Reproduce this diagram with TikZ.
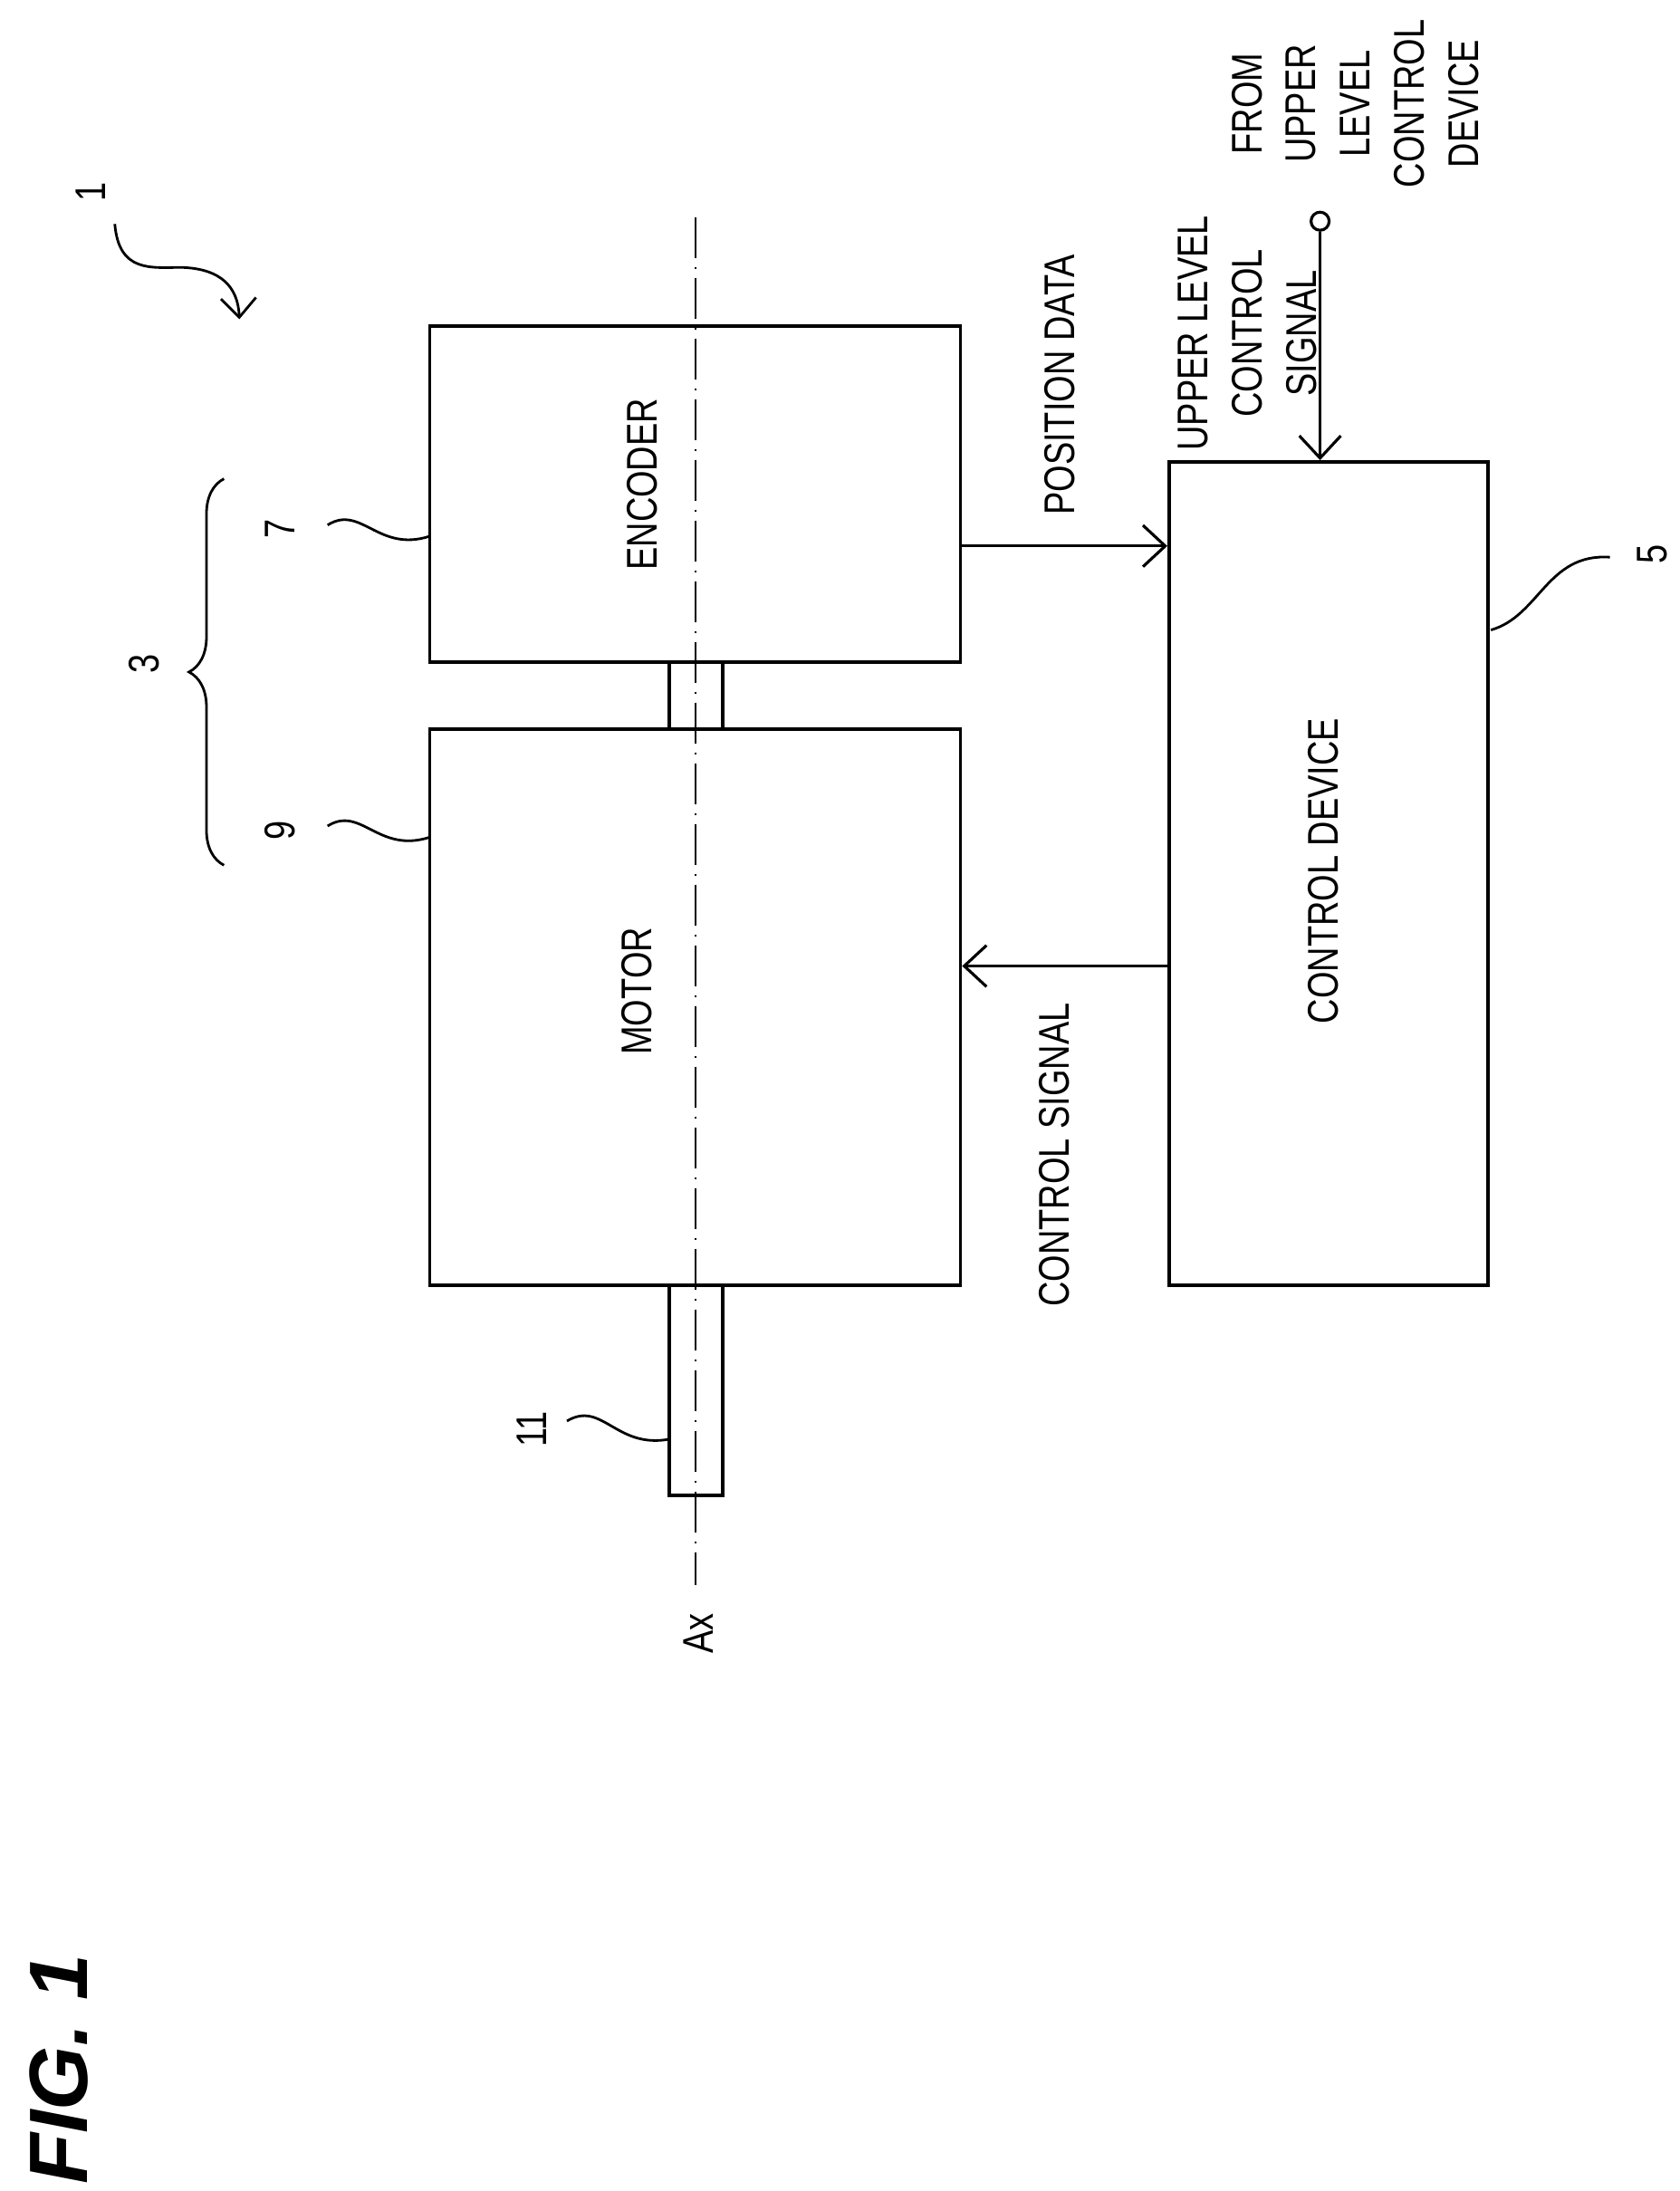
\documentclass[tikz,border=0pt]{standalone}
\usepackage{fontspec}
\setmainfont{Liberation Sans}[FakeStretch=0.8]
\newfontfamily\figfont{Liberation Sans}
\usetikzlibrary{arrows.meta,decorations.pathreplacing}

\begin{document}
\begin{tikzpicture}[x=0.015458cm,y=-0.015458cm,
  box/.style={draw, line width=1.1pt, inner sep=0pt},
  txt/.style={rotate=90, font=\fontsize{13.5}{17}\selectfont, align=center},
  sig/.style={line width=0.9pt, -{Straight Barb[length=7pt,width=13pt]}},
  lead/.style={line width=0.8pt},
  axis/.style={line width=0.7pt, dash pattern=on 0.45cm off 0.1cm on 0.02cm off 0.1cm}]
\useasboundingbox (0,0) rectangle (1200,1565);

% Blocks
\node[box, minimum width=5.86cm, minimum height=3.71cm] (enc) at (496.5,353) {};
\node[box, minimum width=0.59cm, minimum height=0.74cm] (coup) at (497,497) {};
\node[box, minimum width=5.86cm, minimum height=6.14cm] (mot) at (496.5,719.5) {};
\node[box, minimum width=0.59cm, minimum height=2.32cm] (shaft) at (497,993) {};
\node[box, minimum width=3.52cm, minimum height=9.09cm] (ctrl) at (949,624) {};
\node[txt] at (459,346) {ENCODER};
\node[txt] at (455,708) {MOTOR};
\node[txt] at (945,622) {CONTROL DEVICE};

% Rotation axis
\coordinate (axtop) at (497,155);
\coordinate (axbot) at (497,1132);
\draw[axis] (axtop) -- (axbot);
\node[txt] (ax) at (499,1167) {Ax};

% Signals
\coordinate (pd) at (760,390);
\coordinate (cs) at (760,690);
\draw[sig] (enc.east |- pd) -- (ctrl.west |- pd);
\draw[sig] (ctrl.west |- cs) -- (mot.east |- cs);
\node[txt] at (757,275) {POSITION DATA};
\node[txt] at (753,825) {CONTROL SIGNAL};
\node[draw, circle, line width=0.9pt, inner sep=0pt, minimum size=0.2cm] (term) at (943,158) {};
\draw[sig] (term) -- (term |- ctrl.north);
\node[txt] at (891,238) {UPPER LEVEL\\CONTROL\\SIGNAL};
\node[txt] at (968,74) {FROM\\UPPER\\LEVEL\\CONTROL\\DEVICE};

% Reference numerals
\node[txt] (n1) at (65,137) {1};
\draw[lead, -{Straight Barb[length=6pt,width=11pt]}] (82,160) .. controls (85,195) and (108,191) .. (130,191) .. controls (158,192) and (170,205) .. (171,228);
\node[txt] (n7) at (200,378) {7};
\draw[lead] (234,375) .. controls (258,360) and (270,395) .. (307,383);
\node[txt] (n9) at (200,593) {9};
\draw[lead] (234,590) .. controls (258,575) and (270,610) .. (307,598);
\node[txt] (n11) at (380,1021) {11};
\draw[lead] (405,1015) .. controls (430,1000) and (440,1035) .. (478,1028);
\node[txt] (n5) at (1180,396) {5};
\draw[lead] (1065,450) .. controls (1100,440) and (1105,395) .. (1150,398);
\node[txt] (n3) at (103,474) {3};
\draw[lead, decorate, decoration={brace, amplitude=11pt}] (160,618) -- (160,342);

\node[rotate=90, font=\figfont\fontsize{26}{30}\selectfont\bfseries\itshape] (fig) at (42,1478) {FIG. 1};
\end{tikzpicture}
\end{document}
